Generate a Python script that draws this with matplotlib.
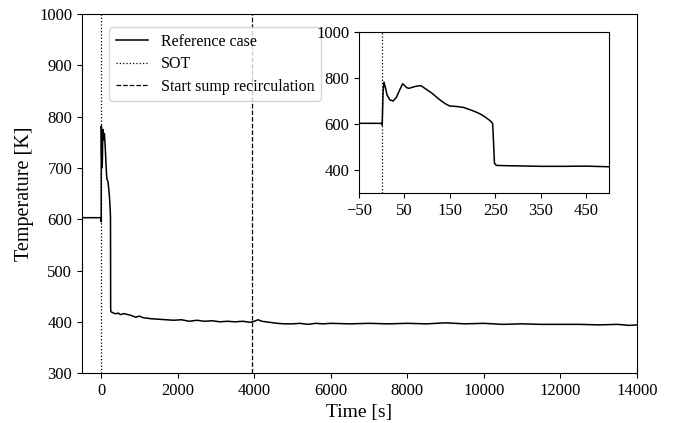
import matplotlib

matplotlib.use("Agg")
import matplotlib.pyplot as plt

plt.rcParams["font.family"] = ["Liberation Serif", "DejaVu Serif"]
plt.rcParams["mathtext.fontset"] = "stix"

# reference case (s, K)
time = [
    -500, 0, 1, 3, 5, 8, 12, 18, 25, 32, 40, 46, 50, 55, 60, 68, 75, 85, 90,
    100, 110, 120, 130, 140, 150, 160, 170, 180, 190, 200, 210, 220, 230, 240,
    244, 246, 248, 252, 270, 300, 350, 400, 450, 500,
    600, 700, 800, 900, 1000, 1100, 1300, 1500, 1700, 1900, 2100, 2300, 2500,
    2700, 2900, 3100, 3300, 3500, 3700, 3900, 4000, 4100, 4200, 4400, 4600,
    4800, 5000, 5200, 5400, 5600, 5800, 6000, 6500, 7000, 7500, 8000, 8500,
    9000, 9500, 10000, 10500, 11000, 11500, 12000, 12500, 13000, 13500, 13800,
    14000,
]
temp = [
    603, 603, 595, 740, 782, 760, 725, 705, 700, 715, 750, 775, 768, 758, 755,
    760, 764, 767, 762, 748, 735, 718, 702, 688, 678, 677, 675, 672, 665, 658,
    650, 640, 627, 612, 602, 520, 430, 420, 419, 418, 416, 416, 417, 414,
    416, 414, 412, 409, 411, 408, 406, 405, 404, 403, 404, 401, 403,
    401, 402, 400, 401, 400, 401, 399, 401, 404, 401, 399, 397,
    396, 396, 397, 395, 397, 396, 397, 396, 397, 396, 397, 396,
    398, 396, 397, 395, 396, 395, 395, 395, 394, 395, 393,
    394,
]
t_sot = 0
t_sump = 3950

fig = plt.figure(figsize=(6.74, 4.23), dpi=100)
ax = fig.add_axes([0.1217, 0.118, 0.8234, 0.8487])
ax.plot(time, temp, "k-", lw=1.1, label="Reference case")
ax.axvline(t_sot, color="k", ls=":", lw=0.9, label="SOT")
ax.axvline(t_sump, color="k", ls="--", lw=0.9, label="Start sump recirculation")
ax.set_xlim(-500, 14000)
ax.set_ylim(300, 1000)
ax.set_xticks(range(0, 14001, 2000))
ax.set_yticks(range(300, 1001, 100))
ax.tick_params(labelsize=12)
ax.set_xlabel("Time [s]", fontsize=14)
ax.set_ylabel("Temperature [K]", fontsize=14.5)
ax.legend(loc="upper left", bbox_to_anchor=(0.035, 0.985), fontsize=11.5,
          handlelength=2.0, labelspacing=0.4)

# zoom on the first 500 s
ins = fig.add_axes([0.5326, 0.5437, 0.371, 0.3806])
ins.plot(time, temp, "k-", lw=1.1)
ins.axvline(t_sot, color="k", ls=":", lw=0.9)
ins.set_xlim(-50, 500)
ins.set_ylim(300, 1000)
ins.set_xticks(range(-50, 451, 100))
ins.set_yticks(range(400, 1001, 200))
ins.tick_params(labelsize=12)

fig.savefig("out.png", dpi=100)
